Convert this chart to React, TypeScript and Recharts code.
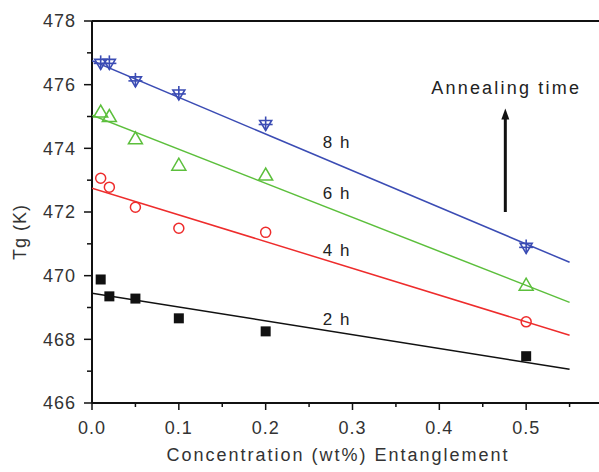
import React from "react";
import {
  ComposedChart,
  Scatter,
  XAxis,
  YAxis,
  ReferenceLine,
  ReferenceDot,
} from "recharts";

const concentrations = [0.01, 0.02, 0.05, 0.1, 0.2, 0.5];
const tg2h = [469.88, 469.35, 469.28, 468.66, 468.25, 467.47];
const tg4h = [473.06, 472.78, 472.15, 471.49, 471.36, 468.55];
const tg6h = [475.14, 475.0, 474.3, 473.47, 473.16, 469.7];
const tg8h = [476.7, 476.7, 476.15, 475.74, 474.78, 470.92];

const fitX = [0, 0.55];
const fit2h = [469.45, 467.06];
const fit4h = [472.75, 468.13];
const fit6h = [475.04, 469.16];
const fit8h = [476.75, 470.42];

const xTicks = [0, 0.05, 0.1, 0.15, 0.2, 0.25, 0.3, 0.35, 0.4, 0.45, 0.5, 0.55];
const yTicks = [466, 467, 468, 469, 470, 471, 472, 473, 474, 475, 476, 477, 478];

const seriesLabels = [
  { text: "8 h", x: 0.282, y: 474.2 },
  { text: "6 h", x: 0.282, y: 472.6 },
  { text: "4 h", x: 0.282, y: 470.8 },
  { text: "2 h", x: 0.282, y: 468.65 },
];

const BLUE = "#3b4cb4";
const GREEN = "#5cbf3c";
const RED = "#ee2c2c";
const BLACK = "#111111";
const FONT = "'Liberation Sans', Arial, sans-serif";

const toPoints = (xs: number[], ys: number[]) => xs.map((x, i) => ({ x, y: ys[i] }));

const Square = (props: any) => (
  <rect x={props.cx - 5} y={props.cy - 5} width={10} height={10} fill={BLACK} />
);

const Circle = (props: any) => (
  <circle cx={props.cx} cy={props.cy} r={5} fill="none" stroke={RED} strokeWidth={1.5} />
);

const Triangle = (props: any) => {
  const { cx, cy } = props;
  return (
    <polygon
      points={`${cx},${cy - 7} ${cx - 7},${cy + 5} ${cx + 7},${cy + 5}`}
      fill="none"
      stroke={GREEN}
      strokeWidth={1.5}
    />
  );
};

const Star = (props: any) => {
  const { cx, cy } = props;
  return (
    <g stroke={BLUE} strokeWidth={1.6} fill="none">
      <polygon points={`${cx - 6},${cy - 3} ${cx + 6},${cy - 3} ${cx},${cy + 7}`} />
      <line x1={cx - 7} y1={cy + 1} x2={cx + 7} y2={cy + 1} />
      <line x1={cx} y1={cy - 7} x2={cx} y2={cy + 7} />
    </g>
  );
};

const Hidden = () => <g />;

const XTick = (props: any) => {
  const { x, y, payload } = props;
  const v = Number(payload.value);
  const major = Math.round(v * 100) % 10 === 0;
  return (
    <g>
      <line x1={x} x2={x} y1={y} y2={y + (major ? 7 : 4)} stroke={BLACK} strokeWidth={1.5} />
      {major ? (
        <text x={x} y={y + 25} dy="0.35em" textAnchor="middle" fontSize={18} fill="#333" fontFamily={FONT} letterSpacing={1}>
          {v.toFixed(1)}
        </text>
      ) : null}
    </g>
  );
};

const YTick = (props: any) => {
  const { x, y, payload } = props;
  const v = Number(payload.value);
  const major = v % 2 === 0;
  return (
    <g>
      <line x1={x} x2={x - (major ? 8 : 5)} y1={y} y2={y} stroke={BLACK} strokeWidth={1.5} />
      {major ? (
        <text x={x - 16} y={y} dy="0.35em" textAnchor="end" fontSize={18} fill="#333" fontFamily={FONT} letterSpacing={1}>
          {v}
        </text>
      ) : null}
    </g>
  );
};

const Arrow = (props: any) => {
  const { x1, y1, x2, y2 } = props;
  const top = Math.min(y1, y2);
  const bottom = Math.max(y1, y2);
  return (
    <g>
      <line x1={x1} x2={x2} y1={bottom} y2={top + 8} stroke={BLACK} strokeWidth={3} />
      <polygon points={`${x1},${top} ${x1 - 4},${top + 11} ${x1 + 4},${top + 11}`} fill={BLACK} />
    </g>
  );
};

const TextLabel = (text: string, size: number, spacing: number) => (props: any) => {
  const { viewBox } = props;
  const cx = viewBox.x + (viewBox.width || 0) / 2;
  const cy = viewBox.y + (viewBox.height || 0) / 2;
  return (
    <text x={cx} y={cy} dy="0.35em" textAnchor="middle" fontSize={size} fill="#222" fontFamily={FONT} letterSpacing={spacing}>
      {text}
    </text>
  );
};

export default function App() {
  return (
    <div style={{ position: "absolute", left: 0, top: 0, width: 599, height: 472, overflow: "hidden", background: "#fff" }}>
      <ComposedChart width={620} height={472} margin={{ top: 21, right: 7, bottom: 0, left: 0 }}>
        <XAxis
          type="number"
          dataKey="x"
          domain={[0, 0.6]}
          ticks={xTicks}
          interval={0}
          allowDataOverflow
          height={69}
          tickSize={0}
          tickMargin={0}
          axisLine={{ stroke: BLACK, strokeWidth: 2 }}
          tickLine={false}
          tick={<XTick />}
          label={{
            content: (p: any) => (
              <text
                x={p.viewBox.x + 246}
                y={p.viewBox.y + 58}
                textAnchor="middle"
                fontSize={18}
                fill="#333"
                fontFamily={FONT}
                letterSpacing={2}
              >
                Concentration (wt%) Entanglement
              </text>
            ),
          }}
        />
        <YAxis
          type="number"
          dataKey="y"
          domain={[466, 478]}
          ticks={yTicks}
          interval={0}
          width={92}
          tickSize={0}
          tickMargin={0}
          axisLine={{ stroke: BLACK, strokeWidth: 2 }}
          tickLine={false}
          tick={<YTick />}
          label={{
            content: (p: any) => {
              const cx = 20;
              const cy = p.viewBox.y + p.viewBox.height / 2 + 20;
              return (
                <text
                  x={cx}
                  y={cy}
                  dy="0.35em"
                  textAnchor="middle"
                  fontSize={18}
                  fill="#333"
                  fontFamily={FONT}
                  letterSpacing={1}
                  transform={`rotate(-90 ${cx} ${cy})`}
                >
                  Tg (K)
                </text>
              );
            },
          }}
        />
        <ReferenceLine y={478} stroke={BLACK} strokeWidth={2} />

        <Scatter data={toPoints(fitX, fit2h)} line={{ stroke: BLACK, strokeWidth: 1.5 }} lineType="joint" shape={<Hidden />} isAnimationActive={false} />
        <Scatter data={toPoints(fitX, fit4h)} line={{ stroke: RED, strokeWidth: 1.5 }} lineType="joint" shape={<Hidden />} isAnimationActive={false} />
        <Scatter data={toPoints(fitX, fit6h)} line={{ stroke: GREEN, strokeWidth: 1.5 }} lineType="joint" shape={<Hidden />} isAnimationActive={false} />
        <Scatter data={toPoints(fitX, fit8h)} line={{ stroke: BLUE, strokeWidth: 1.5 }} lineType="joint" shape={<Hidden />} isAnimationActive={false} />

        <Scatter data={toPoints(concentrations, tg2h)} shape={<Square />} isAnimationActive={false} />
        <Scatter data={toPoints(concentrations, tg4h)} shape={<Circle />} isAnimationActive={false} />
        <Scatter data={toPoints(concentrations, tg6h)} shape={<Triangle />} isAnimationActive={false} />
        <Scatter data={toPoints(concentrations, tg8h)} shape={<Star />} isAnimationActive={false} />

        {seriesLabels.map((l) => (
          <ReferenceDot key={l.text} x={l.x} y={l.y} r={0} stroke="none" fill="none" label={{ content: TextLabel(l.text, 17, 1.5) }} />
        ))}

        <ReferenceLine
          segment={[
            { x: 0.476, y: 472.0 },
            { x: 0.476, y: 475.25 },
          ]}
          shape={<Arrow />}
        />
        <ReferenceDot x={0.477} y={475.92} r={0} stroke="none" fill="none" label={{ content: TextLabel("Annealing time", 18, 2.2) }} />
      </ComposedChart>
    </div>
  );
}
